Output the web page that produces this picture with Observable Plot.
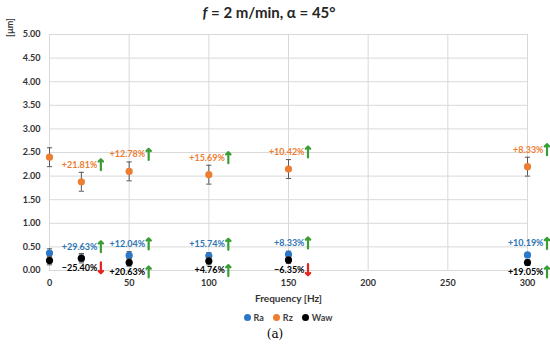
<!DOCTYPE html>
<html>
<head>
<meta charset="utf-8">
<script src="https://cdn.jsdelivr.net/npm/d3@7"></script>
<script src="https://cdn.jsdelivr.net/npm/@observablehq/plot@0.6"></script>
<style>
  body { margin: 0; background: #fff; font-family: Lato, "Open Sans", sans-serif; }
  #wrap { width: 550px; height: 348px; overflow: hidden; }
  #title { height: 20px; line-height: 24px; text-align: center; font-weight: bold; font-size: 15px; color: #262626; padding-right: 12px; }
  #legend { height: 18px; display: flex; justify-content: center; align-items: center; gap: 9px; padding-left: 26px; font-weight: bold; font-size: 9px; color: #404040; }
  #legend .it { display: flex; align-items: center; gap: 3px; }
  #legend .sw { width: 7px; height: 7px; border-radius: 50%; display: inline-block; }
  #caption { height: 16px; line-height: 16px; text-align: center; font-family: "DejaVu Serif", "Liberation Serif", serif; font-size: 12px; color: #000; }
</style>
</head>
<body>
<div id="wrap">
  <div id="title"><i>f</i> = 2 m/min, α = 45°</div>
  <div id="chart"></div>
  <div id="legend"></div>
  <div id="caption">(a)</div>
</div>
<script>
// ---- data ----
const frequency = [0, 20, 50, 100, 150, 300];
const raValues  = [0.37, 0.26, 0.32, 0.31, 0.34, 0.33];
const raErrors  = [0.09, 0.07, 0.08, 0.07, 0.07, 0.05];
const rzValues  = [2.40, 1.88, 2.10, 2.03, 2.15, 2.20];
const rzErrors  = [0.20, 0.20, 0.20, 0.20, 0.20, 0.20];
const wawValues = [0.21, 0.26, 0.17, 0.20, 0.22, 0.17];
const wawErrors = [0.09, 0.10, 0.08, 0.08, 0.07, 0.06];
const raChange  = ["", "+29.63%", "+12.04%", "+15.74%", "+8.33%", "+10.19%"];
const rzChange  = ["", "+21.81%", "+12.78%", "+15.69%", "+10.42%", "+8.33%"];
const wawChange = ["", "−25.40%", "+20.63%", "+4.76%", "−6.35%", "+19.05%"];
const seriesNames = ["Ra", "Rz", "Waw"];
const yTicks = [0, 0.5, 1, 1.5, 2, 2.5, 3, 3.5, 4, 4.5, 5];
const xTicks = [0, 50, 100, 150, 200, 250, 300];

const colors = {Ra: "#2b77c9", Rz: "#ED7D31", Waw: "#000000"};
const labelColors = {Ra: "#2E75B6", Rz: "#ED7D31", Waw: "#000000"};
const UP = "#3a9e35", DOWN = "#e8221b";

function rows(name, vals, errs, changes) {
  return frequency.map((f, i) => ({series: name, f, v: vals[i], lo: vals[i] - errs[i], hi: vals[i] + errs[i], change: changes[i], up: !changes[i].startsWith("−")}));
}
const ra = rows("Ra", raValues, raErrors, raChange);
const rz = rows("Rz", rzValues, rzErrors, rzChange);
const waw = rows("Waw", wawValues, wawErrors, wawChange);

const capSymbol = {draw(ctx) { ctx.moveTo(-2.6, 0); ctx.lineTo(2.6, 0); }};
const labeled = (d) => d.filter(r => r.change !== "");
const font = "Lato, 'Open Sans', sans-serif";

function labelMarks(data, dyLabel, color) {
  const d = labeled(data);
  return [
    Plot.text(d, {x: "f", y: "v", text: "change", dy: dyLabel, dx: 16, textAnchor: "end", lineAnchor: "middle", fill: color, fontWeight: "bold", fontSize: 9, fontFamily: font}),
    Plot.vector(d, {x: "f", y: "v", dy: dyLabel, dx: 19.5, length: 11, rotate: r => r.up ? 0 : 180, anchor: "middle", stroke: r => r.up ? UP : DOWN, strokeWidth: 2.2})
  ];
}

const chart = Plot.plot({
  width: 550,
  height: 288,
  marginTop: 14,
  marginBottom: 38,
  marginLeft: 49,
  marginRight: 23,
  style: {fontFamily: font, background: "#fff", overflow: "visible"},
  x: {domain: [0, 300], ticks: xTicks},
  y: {domain: [0, 5], ticks: yTicks},
  color: {type: "identity"},
  marks: [
    Plot.gridY(yTicks, {stroke: "#d9d9d9", strokeOpacity: 1, strokeWidth: 1}),
    Plot.gridX(xTicks, {stroke: "#d9d9d9", strokeOpacity: 1, strokeWidth: 1}),
    Plot.axisY(yTicks, {tickSize: 0, tickPadding: 9, tickFormat: d3.format(".2f"), fontSize: 9, fontWeight: "bold", fill: "#333333", label: null}),
    Plot.axisX(xTicks, {tickSize: 0, tickPadding: 9.5, fontSize: 9, fontWeight: "bold", fill: "#333333", label: null}),
    Plot.text(["[µm]"], {frameAnchor: "top-left", dx: -39, dy: -7, rotate: -90, textAnchor: "middle", lineAnchor: "middle", fontSize: 9, fontWeight: "bold", fill: "#333333"}),
    Plot.text(["Frequency [Hz]"], {frameAnchor: "bottom", dy: 28, lineAnchor: "middle", fontSize: 10, fontWeight: "bold", fill: "#333333"}),
    ...[[ra, colors.Ra], [rz, colors.Rz], [waw, colors.Waw]].flatMap(([d, c]) => [
      Plot.ruleX(d, {x: "f", y1: "lo", y2: "hi", stroke: "#595959", strokeWidth: 1}),
      Plot.dot(d, {x: "f", y: "lo", symbol: capSymbol, stroke: "#595959", strokeWidth: 1, fill: "none", r: 3}),
      Plot.dot(d, {x: "f", y: "hi", symbol: capSymbol, stroke: "#595959", strokeWidth: 1, fill: "none", r: 3}),
      Plot.dot(d, {x: "f", y: "v", r: 3.6, fill: c, stroke: "none"})
    ]),
    ...labelMarks(rz, -17, labelColors.Rz),
    ...labelMarks(ra, -11.5, labelColors.Ra),
    ...labelMarks(waw, 9.5, labelColors.Waw)
  ]
});
document.getElementById("chart").appendChild(chart);

const legend = document.getElementById("legend");
seriesNames.forEach(n => {
  const it = document.createElement("span");
  it.className = "it";
  it.innerHTML = `<span class="sw" style="background:${colors[n]}"></span><span>${n}</span>`;
  legend.appendChild(it);
});
</script>
</body>
</html>
